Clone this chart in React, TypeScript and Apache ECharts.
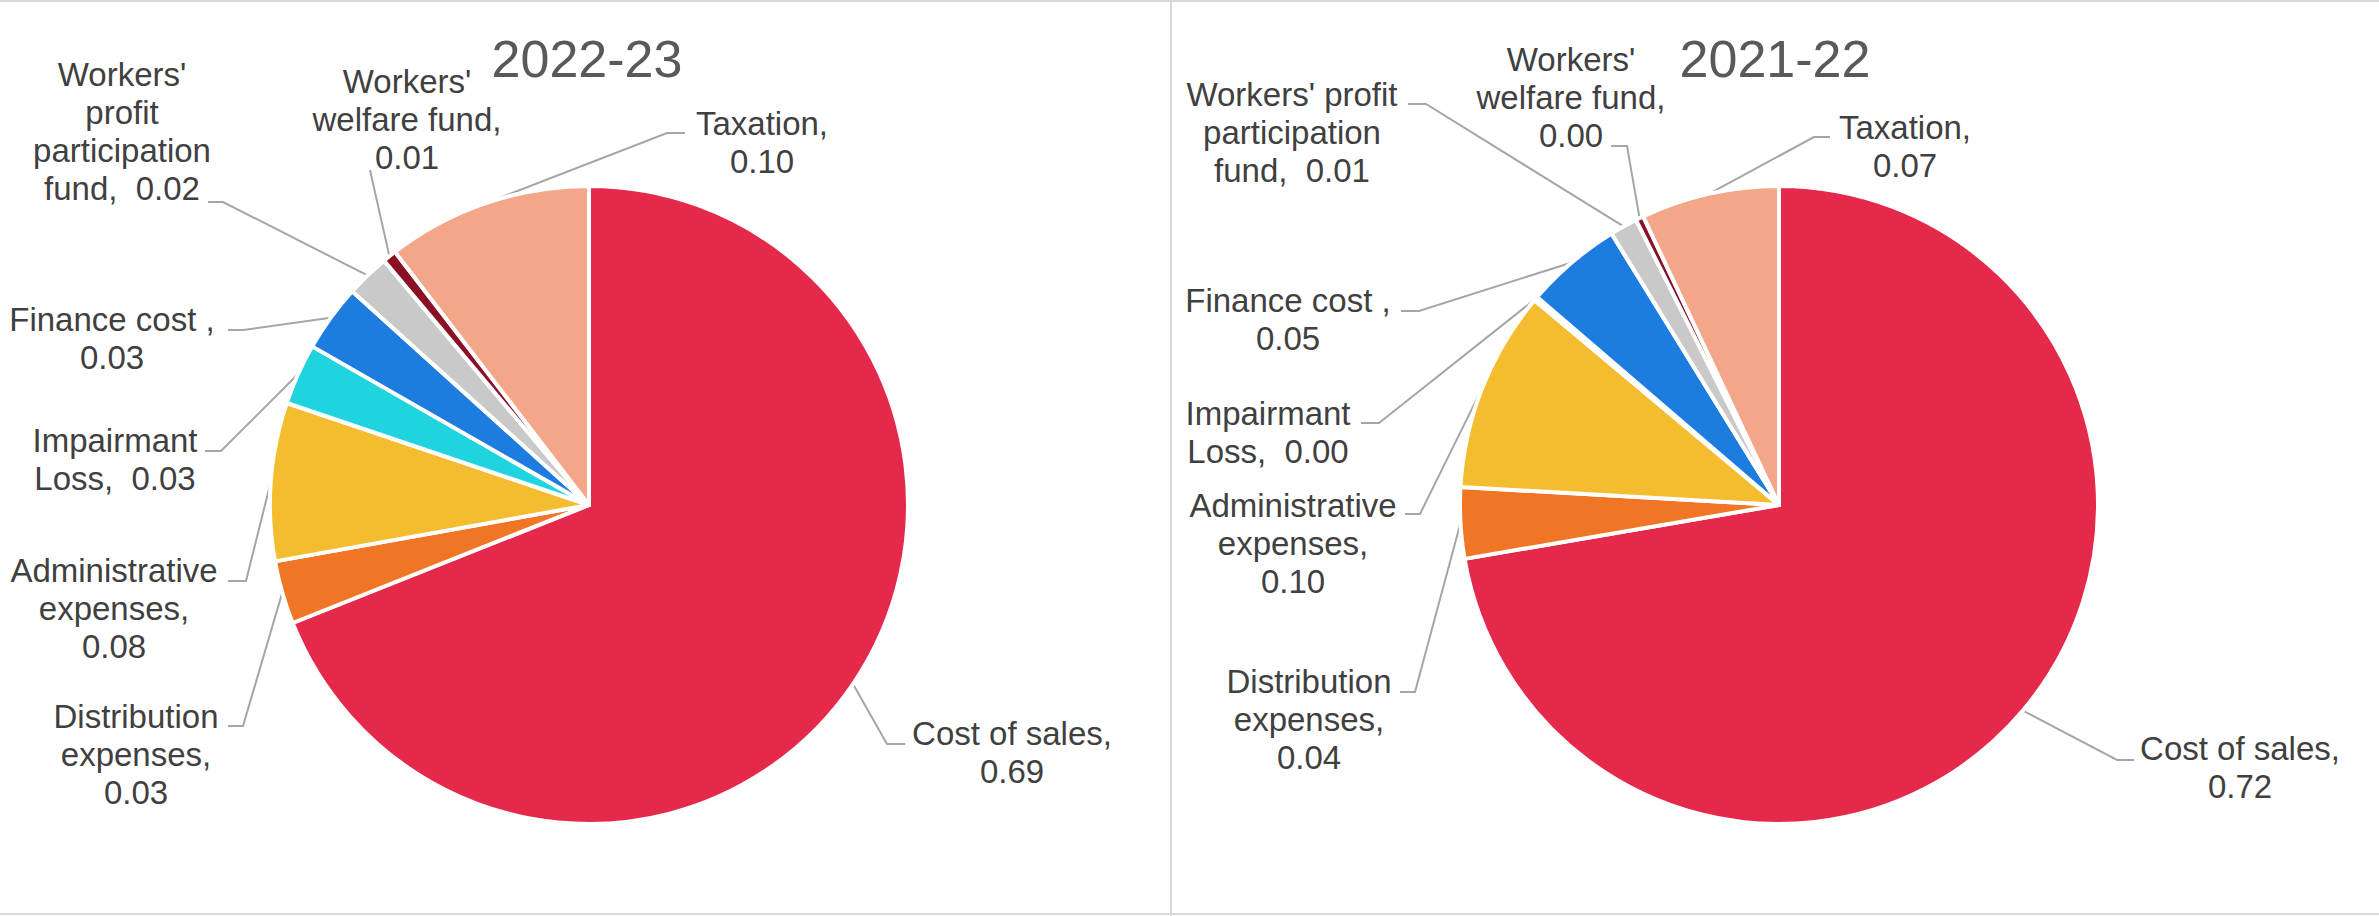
import React, { useEffect, useRef } from "react";
import * as echarts from "echarts";

// ---------- data ----------
const categories = [
  "Cost of sales",
  "Distribution expenses",
  "Administrative expenses",
  "Impairmant Loss",
  "Finance cost ",
  "Workers' profit participation fund",
  "Workers' welfare fund",
  "Taxation",
];

const titles = ["2022-23", "2021-22"];

const values2023 = [0.689, 0.032, 0.08, 0.031, 0.034, 0.022, 0.007, 0.104];
const values2022 = [0.723, 0.036, 0.102, 0.002, 0.049, 0.014, 0.004, 0.07];

// label text (name part, with the line breaks used in the reference)
const labelText2023 = [
  "Cost of sales,\n",
  "Distribution\nexpenses,\n",
  "Administrative\nexpenses,\n",
  "Impairmant\nLoss,  ",
  "Finance cost ,\n",
  "Workers'\nprofit\nparticipation\nfund,  ",
  "Workers'\nwelfare fund,\n",
  "Taxation,\n",
];
const labelText2022 = [
  "Cost of sales,\n",
  "Distribution\nexpenses,\n",
  "Administrative\nexpenses,\n",
  "Impairmant\nLoss,  ",
  "Finance cost ,\n",
  "Workers' profit\nparticipation\nfund,  ",
  "Workers'\nwelfare fund,\n",
  "Taxation,\n",
];

// ---------- styles / layout ----------
const colors = [
  "#E5294A",
  "#F07525",
  "#F3BD2F",
  "#1FD4DE",
  "#1D7DDE",
  "#C9C9C9",
  "#8B1026",
  "#F3A688",
];

const FONT = "'Liberation Sans', Arial, sans-serif";
const W = 2379;
const H = 916;
const RADIUS = 319;
const centers: [number, number][] = [
  [589, 505],
  [1779, 505],
];

// label placement: [labelCenterX, labelCenterY, leaderEndX, leaderEndY, elbowX]
const layout2023 = [
  [1012, 752, 905, 744, 887],
  [136, 754, 228, 726, 243],
  [114, 608, 228, 581, 246],
  [115, 459, 205, 451, 221],
  [112, 338, 228, 330, 243],
  [122, 131, 208, 202, 223],
  [407, 119, 370, 170, 370],
  [762, 142, 685, 133, 667],
];
const layout2022 = [
  [2240, 767, 2134, 760, 2117],
  [1309, 719, 1400, 692, 1415],
  [1293, 543, 1405, 514, 1420],
  [1268, 432, 1361, 423, 1379],
  [1288, 319, 1401, 311, 1419],
  [1292, 132, 1408, 104, 1426],
  [1571, 97, 1611, 146, 1627],
  [1905, 146, 1830, 137, 1814],
];

function edgePoint(values: number[], idx: number, center: [number, number]) {
  const total = values.reduce((a, b) => a + b, 0);
  let before = 0;
  for (let i = 0; i < idx; i++) before += values[i];
  const frac = (before + values[idx] / 2) / total;
  const a = frac * Math.PI * 2;
  return [center[0] + RADIUS * Math.sin(a), center[1] - RADIUS * Math.cos(a)];
}

function makeSeries(
  values: number[],
  texts: string[],
  layout: number[][],
  center: [number, number]
) {
  return {
    type: "pie",
    center,
    radius: RADIUS,
    startAngle: 90,
    clockwise: true,
    avoidLabelOverlap: false,
    minShowLabelAngle: 0,
    emphasis: { disabled: true },
    data: categories.map((name, i) => ({
      name,
      value: values[i],
      itemStyle: { color: colors[i] },
    })),
    itemStyle: { borderColor: "#ffffff", borderWidth: 4 },
    label: {
      show: true,
      position: "outside",
      formatter: (p: any) => texts[p.dataIndex] + Number(p.value).toFixed(2),
      fontSize: 33,
      lineHeight: 38,
      color: "#404040",
      fontFamily: FONT,
      align: "center",
    },
    labelLine: {
      show: true,
      length: 10,
      length2: 10,
      lineStyle: { color: "#A6A6A6", width: 2 },
    },
    labelLayout: (params: any) => {
      const L = layout[params.dataIndex];
      const pts = params.labelLinePoints;
      const start =
        pts && pts[0] ? pts[0] : edgePoint(values, params.dataIndex, center);
      return {
        x: L[0],
        y: L[1],
        align: "center",
        verticalAlign: "middle",
        labelLinePoints: [start, [L[4], L[3]], [L[2], L[3]]],
      };
    },
  };
}

export default function App() {
  const ref = useRef<HTMLDivElement>(null);

  useEffect(() => {
    if (!ref.current) return;
    const chart = echarts.init(ref.current, undefined, { renderer: "svg" });
    const border = { stroke: "#D9D9D9", lineWidth: 2 };
    chart.setOption({
      animation: false,
      backgroundColor: "#ffffff",
      series: [
        makeSeries(values2023, labelText2023, layout2023, centers[0]),
        makeSeries(values2022, labelText2022, layout2022, centers[1]),
      ],
      graphic: [
        { type: "line", shape: { x1: 0, y1: 1, x2: W, y2: 1 }, style: border, silent: true },
        { type: "line", shape: { x1: 0, y1: 914, x2: W, y2: 914 }, style: border, silent: true },
        { type: "line", shape: { x1: 1171, y1: 0, x2: 1171, y2: H }, style: border, silent: true },
        {
          type: "text",
          x: 587,
          y: 59,
          style: {
            text: titles[0],
            fontSize: 52,
            fontFamily: FONT,
            fill: "#595959",
            align: "center",
            verticalAlign: "middle",
          },
        },
        {
          type: "text",
          x: 1775,
          y: 59,
          style: {
            text: titles[1],
            fontSize: 52,
            fontFamily: FONT,
            fill: "#595959",
            align: "center",
            verticalAlign: "middle",
          },
        },
      ],
    });
    return () => chart.dispose();
  }, []);

  return (
    <div
      ref={ref}
      style={{ position: "fixed", left: 0, top: 0, width: W, height: H, background: "#fff" }}
    />
  );
}
